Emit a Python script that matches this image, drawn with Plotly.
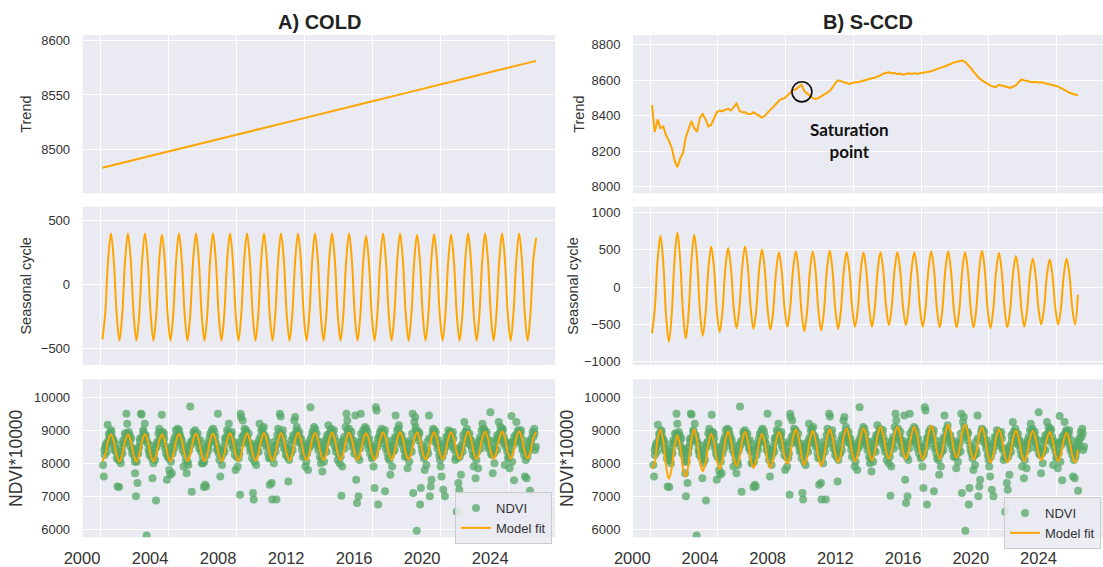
import plotly.graph_objects as go
from plotly.subplots import make_subplots

# ---------------- data (x = years since 2000) ----------------
x_tick_vals = [0, 4, 8, 12, 16, 20, 24]
x_tick_text = ["2000", "2004", "2008", "2012", "2016", "2020", "2024"]

# sampling phase within each year (fraction of year) for the model outputs
cold_phase = [0.14, 0.307, 0.473, 0.64, 0.807, 0.973]
scd_phase = [0.1, 0.267, 0.433, 0.6, 0.767, 0.933]

# COLD trend, one row per year (2000 ... 2025)
cold_trend_rows = [
    [8483.0, 8483.6, 8484.3, 8484.9, 8485.6, 8486.2], [8486.9, 8487.5, 8488.1, 8488.8, 8489.4, 8490.1],
    [8490.7, 8491.4, 8492.0, 8492.6, 8493.3, 8493.9], [8494.6, 8495.2, 8495.9, 8496.5, 8497.1, 8497.8],
    [8498.4, 8499.1, 8499.7, 8500.3, 8501.0, 8501.6], [8502.3, 8502.9, 8503.6, 8504.2, 8504.9, 8505.5],
    [8506.1, 8506.8, 8507.4, 8508.1, 8508.7, 8509.3], [8510.0, 8510.6, 8511.3, 8511.9, 8512.6, 8513.2],
    [8513.9, 8514.5, 8515.2, 8515.8, 8516.4, 8517.1], [8517.7, 8518.4, 8519.0, 8519.6, 8520.3, 8520.9],
    [8521.6, 8522.2, 8522.9, 8523.5, 8524.2, 8524.8], [8525.4, 8526.1, 8526.7, 8527.3, 8528.0, 8528.6],
    [8529.3, 8529.9, 8530.6, 8531.2, 8531.9, 8532.5], [8533.2, 8533.8, 8534.5, 8535.1, 8535.7, 8536.4],
    [8537.0, 8537.7, 8538.3, 8538.9, 8539.6, 8540.2], [8540.9, 8541.5, 8542.2, 8542.8, 8543.5, 8544.1],
    [8544.7, 8545.4, 8546.0, 8546.7, 8547.3, 8547.9], [8548.6, 8549.2, 8549.9, 8550.5, 8551.2, 8551.8],
    [8552.4, 8553.1, 8553.7, 8554.4, 8555.0, 8555.6], [8556.3, 8556.9, 8557.6, 8558.2, 8558.9, 8559.5],
    [8560.2, 8560.8, 8561.5, 8562.1, 8562.7, 8563.4], [8564.0, 8564.7, 8565.3, 8565.9, 8566.6, 8567.2],
    [8567.9, 8568.5, 8569.2, 8569.8, 8570.5, 8571.1], [8571.7, 8572.4, 8573.0, 8573.7, 8574.3, 8574.9],
    [8575.6, 8576.2, 8576.9, 8577.5, 8578.1, 8578.8], [8579.4, 8580.1, 8580.7, 8581.4],
]

# COLD seasonal cycle, one row per year
cold_seasonal_rows = [
    [-430, -224, 189, 395, 186, -231], [-440, -231, 186, 395, 186, -231],
    [-440, -231, 186, 395, 186, -231], [-440, -234, 179, 385, 179, -234],
    [-440, -231, 186, 395, 186, -231], [-440, -231, 186, 395, 186, -231],
    [-440, -231, 186, 395, 186, -231], [-440, -231, 186, 395, 186, -231],
    [-440, -231, 186, 395, 186, -231], [-440, -231, 186, 395, 186, -231],
    [-440, -231, 186, 395, 186, -231], [-440, -231, 186, 395, 186, -231],
    [-440, -231, 186, 395, 186, -231], [-440, -231, 186, 395, 186, -231],
    [-440, -231, 186, 395, 186, -231], [-440, -236, 171, 375, 171, -236],
    [-440, -231, 186, 395, 186, -231], [-440, -231, 186, 395, 186, -231],
    [-440, -234, 179, 385, 179, -234], [-440, -232, 183, 390, 183, -232],
    [-440, -234, 179, 385, 179, -234], [-440, -231, 186, 395, 186, -231],
    [-440, -231, 186, 395, 186, -231], [-440, -231, 186, 395, 186, -231],
    [-440, -231, 186, 395, 186, -231], [-440, -231, 186, 360],
]

# S-CCD trend, one row per year
scd_trend_rows = [
    [8460, 8310, 8380, 8330, 8340, 8290], [8260, 8220, 8150, 8110, 8160, 8190],
    [8280, 8330, 8370, 8330, 8310, 8390], [8410, 8380, 8340, 8350, 8390, 8420],
    [8430, 8425, 8435, 8440, 8430, 8450], [8470, 8430, 8420, 8420, 8410, 8410],
    [8420, 8410, 8400, 8390, 8400, 8420], [8435, 8450, 8470, 8485, 8495, 8500],
    [8515, 8530, 8545, 8550, 8565, 8575], [8540, 8525, 8510, 8500, 8495, 8500],
    [8510, 8520, 8530, 8540, 8560, 8585], [8600, 8595, 8590, 8585, 8580, 8585],
    [8590, 8590, 8595, 8600, 8605, 8610], [8612, 8615, 8620, 8628, 8638, 8642],
    [8645, 8640, 8642, 8635, 8638, 8632], [8638, 8640, 8636, 8640, 8638, 8640],
    [8642, 8645, 8648, 8652, 8658, 8665], [8668, 8675, 8680, 8688, 8695, 8700],
    [8705, 8708, 8712, 8705, 8690, 8670], [8650, 8630, 8612, 8600, 8590, 8580],
    [8570, 8565, 8562, 8575, 8570, 8565], [8562, 8558, 8565, 8572, 8590, 8605],
    [8600, 8595, 8592, 8590, 8592, 8588], [8590, 8585, 8582, 8578, 8574, 8570],
    [8565, 8555, 8548, 8540, 8530, 8525], [8522, 8515],
]

# S-CCD seasonal cycle, one row per year
scd_seasonal_rows = [
    [-620, -292, 362, 690, 335, -375], [-730, -365, 365, 730, 375, -335],
    [-690, -341, 356, 705, 366, -311], [-650, -351, 246, 545, 259, -314],
    [-600, -319, 244, 525, 256, -281], [-550, -276, 271, 545, 269, -284],
    [-560, -294, 239, 505, 236, -301], [-570, -311, 206, 465, 216, -281],
    [-530, -278, 228, 480, 213, -323], [-590, -323, 213, 480, 215, -315],
    [-580, -313, 223, 490, 228, -298], [-560, -303, 213, 470, 220, -280],
    [-530, -281, 216, 465, 216, -281], [-530, -280, 220, 470, 225, -265],
    [-510, -265, 225, 470, 225, -265], [-510, -265, 225, 470, 220, -280],
    [-530, -278, 228, 480, 225, -285], [-540, -285, 225, 480, 225, -285],
    [-540, -288, 218, 470, 218, -288], [-540, -283, 233, 490, 230, -290],
    [-550, -298, 208, 460, 210, -290], [-540, -300, 180, 420, 183, -293],
    [-530, -301, 156, 385, 164, -279], [-500, -283, 153, 370, 153, -283],
    [-500, -279, 164, 385, 164, -279], [-500, -100],
]

# NDVI observations (years since 2000, NDVI*10000)
ndvi_t = [
    0.18, 0.22, 0.27, 0.31, 0.36, 0.40, 0.45, 0.49, 0.53, 0.58, 0.62, 0.67, 0.71, 0.76, 0.80, 0.85, 0.89, 0.94, 0.98,
    1.03, 1.08, 1.12, 1.17, 1.22, 1.27, 1.31, 1.36, 1.41, 1.46, 1.51, 1.55, 1.60, 1.64, 1.69, 1.74, 1.79, 1.84, 1.89, 1.94,
    2.02, 2.06, 2.11, 2.16, 2.20, 2.25, 2.30, 2.35, 2.40, 2.44, 2.49, 2.54, 2.58, 2.63, 2.68, 2.74, 2.79, 2.85, 2.90, 2.95,
    3.03, 3.08, 3.13, 3.18, 3.23, 3.29, 3.33, 3.38, 3.43, 3.48, 3.53, 3.58, 3.63, 3.68, 3.73, 3.78, 3.83, 3.88, 3.93, 3.97,
    4.02, 4.07, 4.12, 4.17, 4.22, 4.27, 4.31, 4.36, 4.41, 4.46, 4.51, 4.56, 4.61, 4.66, 4.71, 4.76, 4.81, 4.86, 4.91, 4.96,
    5.04, 5.09, 5.14, 5.19, 5.24, 5.30, 5.34, 5.39, 5.44, 5.49, 5.54, 5.59, 5.64, 5.69, 5.74, 5.79, 5.84, 5.89, 5.94, 5.98,
    6.03, 6.10, 6.13, 6.18, 6.23, 6.28, 6.33, 6.38, 6.43, 6.48, 6.53, 6.58, 6.63, 6.68, 6.73, 6.78, 6.83, 6.88, 6.93, 6.98,
    7.02, 7.07, 7.12, 7.17, 7.22, 7.27, 7.32, 7.37, 7.42, 7.47, 7.52, 7.57, 7.62, 7.67, 7.72, 7.77, 7.82, 7.87, 7.92, 7.97,
    8.04, 8.09, 8.14, 8.19, 8.23, 8.27, 8.29, 8.34, 8.39, 8.44, 8.49, 8.54, 8.59, 8.64, 8.69, 8.74, 8.79, 8.84, 8.89, 8.94, 8.99,
    9.03, 9.08, 9.13, 9.18, 9.23, 9.28, 9.33, 9.38, 9.43, 9.48, 9.53, 9.58, 9.63, 9.68, 9.73, 9.78, 9.83, 9.88, 9.93, 9.98,
    10.04, 10.09, 10.12, 10.17, 10.22, 10.27, 10.32, 10.37, 10.42, 10.47, 10.52, 10.57, 10.62, 10.67, 10.72, 10.77, 10.82, 10.87, 10.92, 10.97,
    11.02, 11.07, 11.12, 11.17, 11.22, 11.27, 11.32, 11.37, 11.42, 11.47, 11.52, 11.57, 11.62, 11.67, 11.72, 11.77, 11.82, 11.87, 11.92, 11.97,
    12.03, 12.08, 12.13, 12.18, 12.23, 12.28, 12.37, 12.40, 12.43, 12.48, 12.53, 12.58, 12.63, 12.68, 12.73, 12.78, 12.83, 12.88, 12.93, 12.98,
    13.02, 13.07, 13.12, 13.17, 13.22, 13.27, 13.32, 13.37, 13.42, 13.47, 13.52, 13.57, 13.62, 13.67, 13.72, 13.77, 13.82, 13.87, 13.92, 13.97,
    14.04, 14.09, 14.14, 14.19, 14.24, 14.29, 14.34, 14.39, 14.44, 14.49, 14.54, 14.59, 14.64, 14.69, 14.74, 14.79, 14.84, 14.89, 14.94, 14.99,
    15.01, 15.06, 15.11, 15.16, 15.20, 15.25, 15.29, 15.33, 15.38, 15.43, 15.48, 15.53, 15.58, 15.63, 15.68, 15.73, 15.78, 15.83, 15.88, 15.93, 15.98,
    16.03, 16.08, 16.14, 16.18, 16.22, 16.26, 16.31, 16.35, 16.41, 16.46, 16.51, 16.56, 16.61, 16.66, 16.71, 16.76, 16.80, 16.85, 16.90, 16.95,
    17.02, 17.07, 17.12, 17.17, 17.22, 17.27, 17.32, 17.38, 17.42, 17.47, 17.52, 17.57, 17.62, 17.67, 17.72, 17.77, 17.82, 17.87, 17.92, 17.97,
    18.03, 18.08, 18.13, 18.18, 18.23, 18.28, 18.33, 18.38, 18.41, 18.48, 18.53, 18.58, 18.62, 18.68, 18.73, 18.78, 18.82, 18.86, 18.93, 18.98,
    19.04, 19.09, 19.14, 19.19, 19.24, 19.29, 19.34, 19.39, 19.44, 19.49, 19.54, 19.59, 19.64, 19.69, 19.74, 19.79, 19.84, 19.89, 19.94, 19.99,
    20.03, 20.08, 20.13, 20.18, 20.23, 20.28, 20.33, 20.38, 20.43, 20.48, 20.53, 20.58, 20.63, 20.68, 20.73, 20.78, 20.83, 20.88, 20.93, 20.97,
    21.02, 21.07, 21.12, 21.17, 21.22, 21.27, 21.32, 21.37, 21.42, 21.47, 21.52, 21.57, 21.62, 21.67, 21.72, 21.77, 21.82, 21.87, 21.92, 21.97,
    22.03, 22.08, 22.13, 22.18, 22.23, 22.28, 22.33, 22.38, 22.43, 22.48, 22.53, 22.58, 22.63, 22.68, 22.73, 22.78, 22.83, 22.88, 22.95, 22.98,
    23.04, 23.09, 23.14, 23.19, 23.24, 23.29, 23.34, 23.39, 23.44, 23.49, 23.54, 23.59, 23.64, 23.69, 23.74, 23.80, 23.84, 23.89, 23.94, 23.99,
    24.03, 24.08, 24.13, 24.19, 24.23, 24.28, 24.34, 24.38, 24.43, 24.48, 24.53, 24.58, 24.63, 24.68, 24.73, 24.78, 24.83, 24.88, 24.93, 24.98,
    25.03, 25.08, 25.13, 25.18, 25.23, 25.28, 25.33, 25.38, 25.43, 25.48, 25.53, 25.58, 25.63,
    # further observations inside the dense band
    0.25, 0.35, 0.55, 0.65, 0.75, 0.90,
    1.05, 1.15, 1.25, 1.35, 1.55, 1.65, 1.75, 1.90,
    2.05, 2.15, 2.25, 2.35, 2.55, 2.65, 2.75, 2.90,
    3.05, 3.15, 3.25, 3.35, 3.55, 3.65, 3.75, 3.90,
    4.05, 4.15, 4.25, 4.35, 4.55, 4.65, 4.75, 4.90,
    5.05, 5.15, 5.25, 5.35, 5.55, 5.65, 5.75, 5.90,
    6.05, 6.15, 6.25, 6.35, 6.55, 6.65, 6.75, 6.90,
    7.05, 7.15, 7.25, 7.35, 7.55, 7.65, 7.75, 7.90,
    8.05, 8.15, 8.25, 8.35, 8.55, 8.65, 8.75, 8.90,
    9.05, 9.15, 9.25, 9.35, 9.55, 9.65, 9.75, 9.90,
    10.05, 10.15, 10.25, 10.35, 10.55, 10.65, 10.75, 10.90,
    11.05, 11.15, 11.25, 11.35, 11.55, 11.65, 11.75, 11.90,
    12.05, 12.15, 12.25, 12.35, 12.55, 12.65, 12.75, 12.90,
    13.05, 13.15, 13.25, 13.35, 13.55, 13.65, 13.75, 13.90,
    14.05, 14.15, 14.25, 14.35, 14.55, 14.65, 14.75, 14.90,
    15.05, 15.15, 15.25, 15.35, 15.55, 15.65, 15.75, 15.90,
    16.05, 16.15, 16.25, 16.35, 16.55, 16.65, 16.75, 16.90,
    17.05, 17.15, 17.25, 17.35, 17.55, 17.65, 17.75, 17.90,
    18.05, 18.15, 18.25, 18.35, 18.55, 18.65, 18.75, 18.90,
    19.05, 19.15, 19.25, 19.35, 19.55, 19.65, 19.75, 19.90,
    20.05, 20.15, 20.25, 20.35, 20.55, 20.65, 20.75, 20.90,
    21.05, 21.15, 21.25, 21.35, 21.55, 21.65, 21.75, 21.90,
    22.05, 22.15, 22.25, 22.35, 22.55, 22.65, 22.75, 22.90,
    23.05, 23.15, 23.25, 23.35, 23.55, 23.65, 23.75, 23.90,
    24.05, 24.15, 24.25, 24.35, 24.55, 24.65, 24.75, 24.90,
    25.05, 25.15, 25.25, 25.35, 25.55,
]
ndvi_v = [
    7950, 7600, 8250, 8500, 8600, 8350, 9170, 8700, 8900, 8800, 8650, 8950, 8800, 8550, 8700, 8400, 8600, 8350, 8150,
    7300, 8100, 7280, 8200, 8000, 8450, 8300, 8700, 8600, 8900, 8750, 9500, 9200, 8850, 8950, 8650, 8500, 8750, 8300, 8450,
    8200, 7700, 7000, 8050, 7400, 8300, 8500, 8650, 9500, 9480, 8800, 9000, 8700, 9200, 8850, 5810, 8600, 8400, 8250, 8550,
    8150, 7550, 8000, 8300, 8100, 6870, 8500, 8650, 8900, 9050, 8800, 8700, 9470, 8950, 8600, 8750, 8450, 8300, 7500, 8200,
    8250, 7800, 7650, 8050, 7700, 8300, 8600, 8450, 8800, 9000, 8750, 9050, 8900, 8650, 8850, 8550, 8700, 8400, 7900, 8300,
    8100, 7700, 8300, 7950, 8400, 9720, 8550, 7140, 8700, 8950, 8800, 9000, 8850, 8650, 8900, 8600, 8450, 8700, 8350, 8000,
    8200, 7280, 8050, 7350, 7300, 8250, 8500, 8400, 8750, 8900, 8650, 9000, 8850, 8700, 8950, 8800, 8600, 8400, 9500, 8300,
    8100, 7600, 8250, 7950, 8300, 8500, 8350, 8650, 8800, 9000, 8750, 9200, 8900, 8700, 8850, 8550, 8450, 8650, 8250, 7800,
    8200, 7900, 8350, 8300, 7050, 9500, 9400, 8600, 9300, 8850, 9050, 8700, 9000, 8800, 8650, 8900, 8500, 8350, 8600, 8150, 7100,
    6900, 8050, 8250, 7950, 8400, 8550, 8350, 9200, 8800, 9000, 8700, 8900, 9100, 8600, 8800, 8500, 8650, 8300, 8150, 7350,
    8150, 7400, 6900, 8300, 8000, 8500, 8350, 6900, 8850, 9050, 8750, 9500, 9420, 8900, 8600, 8800, 8450, 8600, 8250, 8350,
    8200, 7450, 8100, 8350, 8300, 8550, 8400, 8750, 9300, 9400, 8900, 9100, 8800, 8650, 8950, 8600, 8750, 8400, 8200, 8500,
    8250, 7900, 8050, 8300, 7800, 8450, 9700, 8550, 8800, 8950, 8700, 9100, 8850, 8650, 8900, 8550, 8400, 8650, 8200, 8000,
    8150, 7750, 8300, 8050, 8400, 8600, 8350, 8750, 9150, 8900, 8700, 9050, 8850, 8950, 8600, 8800, 8500, 8350, 8650, 8100,
    8250, 8000, 8350, 7020, 7900, 8550, 8700, 8450, 9100, 9500, 9300, 8900, 9050, 8800, 8650, 8950, 8500, 8700, 8300, 8450,
    9450, 7500, 6800, 8200, 7000, 8100, 8450, 9500, 8650, 8800, 9000, 8700, 9100, 8850, 8600, 8950, 8450, 8750, 8300, 8500, 8150,
    8200, 7900, 7250, 8350, 9700, 9600, 8500, 6750, 8800, 8950, 8700, 9050, 8850, 8600, 8900, 7150, 8450, 8700, 8300, 8150,
    8100, 7650, 8250, 7900, 8350, 8550, 8400, 9450, 8750, 9000, 8800, 9150, 8900, 8650, 8850, 8550, 8700, 8400, 8200, 8350,
    8200, 7850, 8300, 8050, 8450, 8600, 8350, 9500, 7100, 9250, 9400, 9000, 5960, 8850, 8700, 8900, 6750, 7250, 8400, 8300,
    8150, 7800, 8250, 7950, 8400, 8300, 9450, 7000, 7300, 7500, 8800, 9050, 8850, 8650, 8950, 8600, 8450, 8700, 8250, 8100,
    7900, 7600, 8200, 7200, 8350, 7000, 8500, 8650, 8800, 9000, 8700, 8950, 8600, 8850, 8500, 8750, 8400, 8100, 8200, 6530,
    8150, 7400, 7200, 8300, 7650, 8500, 8350, 8700, 9250, 8950, 8750, 9050, 8850, 8600, 8900, 8550, 8700, 8400, 8250, 7900,
    8200, 7550, 8100, 8350, 7850, 8550, 8700, 8450, 9000, 9200, 8800, 9050, 8900, 8650, 8950, 8600, 8450, 8700, 9550, 8300,
    8250, 7700, 8300, 8000, 8450, 8650, 8400, 8750, 9250, 8900, 9100, 8850, 8700, 9000, 8600, 7950, 8500, 8650, 8350, 8150,
    8200, 7850, 8300, 9430, 8050, 8550, 7490, 8650, 8850, 9250, 8700, 9000, 8800, 8650, 8900, 8550, 8400, 8700, 8250, 7600,
    8100, 7550, 8200, 8350, 8450, 7170, 8650, 8500, 8950, 8800, 9050, 8400, 8500,
    # further observations inside the dense band
    8400, 8550, 8850, 9000, 8700, 8450,
    8250, 8100, 8350, 8600, 8900, 8750, 8850, 8400,
    8050, 8300, 8450, 8750, 8950, 8850, 8700, 8350,
    8300, 8150, 8450, 8600, 8950, 8800, 8900, 8500,
    8150, 8350, 8500, 8700, 8850, 9000, 8750, 8550,
    8350, 8050, 8550, 8650, 8900, 8800, 8700, 8450,
    8000, 8400, 8600, 8550, 8850, 9050, 8650, 8450,
    8400, 8200, 8400, 8750, 8950, 8800, 8950, 8550,
    8450, 8150, 8650, 8800, 8950, 8750, 8600, 8400,
    8300, 8500, 8600, 8700, 9050, 8850, 8700, 8500,
    8350, 8200, 8650, 8550, 8950, 8800, 9000, 8450,
    8450, 8300, 8700, 8850, 9000, 8900, 8750, 8550,
    8400, 8600, 8550, 8700, 8900, 9050, 8700, 8500,
    8350, 8500, 8700, 8850, 8950, 8750, 9000, 8450,
    8500, 8200, 8650, 8800, 9000, 8850, 8750, 8600,
    8350, 8550, 8650, 8900, 8950, 9050, 8700, 8550,
    8450, 8250, 8600, 8750, 8950, 8800, 9000, 8500,
    8400, 8550, 8700, 8800, 9050, 8850, 8700, 8600,
    8350, 8600, 8700, 8900, 9100, 8800, 8950, 8550,
    8450, 8250, 8650, 8750, 8950, 9000, 8750, 8550,
    8300, 8500, 8600, 8800, 8900, 8750, 8950, 8450,
    8400, 8200, 8550, 8850, 8950, 8800, 8700, 8550,
    8350, 8550, 8650, 8800, 9000, 8850, 8750, 8500,
    8450, 8300, 8700, 8850, 8950, 9050, 8800, 8600,
    8400, 8600, 8650, 8800, 8950, 8850, 9000, 8450,
    8350, 8500, 8650, 8750, 8900,
]


# ---------------- build series ----------------
def series(rows, phase):
    t, v = [], []
    for yi, row in enumerate(rows):
        for j, val in enumerate(row):
            t.append(yi + phase[j])
            v.append(val)
    return t, v


cold_t, cold_trend = series(cold_trend_rows, cold_phase)
_, cold_seas = series(cold_seasonal_rows, cold_phase)
scd_t, scd_trend = series(scd_trend_rows, scd_phase)
_, scd_seas = series(scd_seasonal_rows, scd_phase)
cold_fit = [a + b for a, b in zip(cold_trend, cold_seas)]
scd_fit = [a + b for a, b in zip(scd_trend, scd_seas)]

ORANGE = "#FFA500"
GREEN = "#55A868"
BG = "#EAEAF2"
FONT = "Liberation Sans, Arial, sans-serif"
TXT = "#333333"

fig = make_subplots(rows=3, cols=2)

line = dict(color=ORANGE, width=2)
fig.add_trace(go.Scatter(x=cold_t, y=cold_trend, mode="lines", line=line, showlegend=False), 1, 1)
fig.add_trace(go.Scatter(x=scd_t, y=scd_trend, mode="lines", line=line, showlegend=False), 1, 2)
fig.add_trace(go.Scatter(x=cold_t, y=cold_seas, mode="lines", line=dict(color=ORANGE, width=2, shape="spline"),
                         showlegend=False), 2, 1)
fig.add_trace(go.Scatter(x=scd_t, y=scd_seas, mode="lines", line=dict(color=ORANGE, width=2, shape="spline"),
                         showlegend=False), 2, 2)

for col, fit_t, fit_v, lg in [(1, cold_t, cold_fit, "legend"), (2, scd_t, scd_fit, "legend2")]:
    fig.add_trace(go.Scatter(x=ndvi_t, y=ndvi_v, mode="markers", name="NDVI", legend=lg,
                             marker=dict(color=GREEN, size=8, opacity=0.75, line=dict(width=0))), 3, col)
    fig.add_trace(go.Scatter(x=fit_t, y=fit_v, mode="lines", name="Model fit", legend=lg,
                             line=dict(color=ORANGE, width=2, shape="spline")), 3, col)

W, H = 1103, 567
xdom_l = [82.7 / W, 555 / W]
xdom_r = [633 / W, 1.0]
ydoms = [[1 - 193.3 / H, 1 - 35 / H], [1 - 365 / H, 1 - 206.7 / H], [1 - 537.3 / H, 1 - 379.3 / H]]

yranges = {1: [8459.5, 8605.2], 2: [7963, 8856], 3: [-630, 604], 4: [-1044, 1080], 5: [5758, 10545], 6: [5758, 10545]}
ydticks = {1: 50, 2: 200, 3: 500, 4: 500, 5: 1000, 6: 1000}
ytitles = {1: ("Trend", 14.5, 6), 2: ("Trend", 14.5, 3), 3: ("Seasonal cycle", 14.5, 5),
           4: ("Seasonal cycle", 14.5, 1), 5: ("NDVI*10000", 17.5, 6), 6: ("NDVI*10000", 17.5, 6)}

lay = {}
for n in range(1, 7):
    row = (n - 1) // 2
    col = (n - 1) % 2
    xk = "xaxis" if n == 1 else f"xaxis{n}"
    yk = "yaxis" if n == 1 else f"yaxis{n}"
    lay[xk] = dict(domain=xdom_l if col == 0 else xdom_r, range=[-1.02, 26.75], automargin=False,
                   tickmode="array", tickvals=x_tick_vals, ticktext=x_tick_text,
                   showticklabels=(row == 2), ticks="outside", ticklen=6, tickcolor="rgba(0,0,0,0)",
                   ticklabelshift=-18,
                   tickfont=dict(size=16.5, color=TXT, family=FONT),
                   showgrid=True, gridcolor="white", gridwidth=1.2, zeroline=False, showline=False)
    lay[yk] = dict(domain=ydoms[row], range=yranges[n], dtick=ydticks[n], tick0=0, automargin=False,
                   tickformat="d",
                   ticks="outside", ticklen=9, tickcolor="rgba(0,0,0,0)",
                   tickfont=dict(size=13, color=TXT, family=FONT),
                   title=dict(text=ytitles[n][0], font=dict(size=ytitles[n][1], color=TXT, family=FONT),
                              standoff=ytitles[n][2]),
                   showgrid=True, gridcolor="white", gridwidth=1.2, zeroline=False, showline=False)

leg = dict(xanchor="right", yanchor="top", bgcolor="rgba(234,234,242,0.85)", bordercolor="#cccccc",
           borderwidth=1, font=dict(size=13, color=TXT, family=FONT), tracegroupgap=0)

fig.update_layout(
    template="none",
    width=W, height=H, margin=dict(l=0, r=0, t=0, b=0, autoexpand=False),
    paper_bgcolor="white", plot_bgcolor=BG,
    font=dict(family=FONT, color=TXT),
    legend=dict(x=552 / W, y=1 - 492 / H, **leg),
    legend2=dict(x=1101 / W, y=1 - 497 / H, **leg),
    **lay,
)

fig.add_annotation(text="<b>A) COLD</b>", x=319 / W, y=1 - 22 / H, xref="paper", yref="paper",
                   xanchor="center", yanchor="middle",
                   showarrow=False, font=dict(size=20, color="#222222", family=FONT))
fig.add_annotation(text="<b>B) S-CCD</b>", x=868 / W, y=1 - 22 / H, xref="paper", yref="paper",
                   xanchor="center", yanchor="middle",
                   showarrow=False, font=dict(size=20, color="#222222", family=FONT))
fig.add_annotation(text="<b>Saturation<br>point</b>", x=11.79, y=8259, xref="x2", yref="y2",
                   showarrow=False, font=dict(size=17, color="#111111", family="Lato, Open Sans, sans-serif"))
fig.add_shape(type="circle", xref="x2", yref="y2", x0=8.37, x1=9.55, y0=8479, y1=8592,
              line=dict(color="#111111", width=1.6))

fig.write_html("out.html")
